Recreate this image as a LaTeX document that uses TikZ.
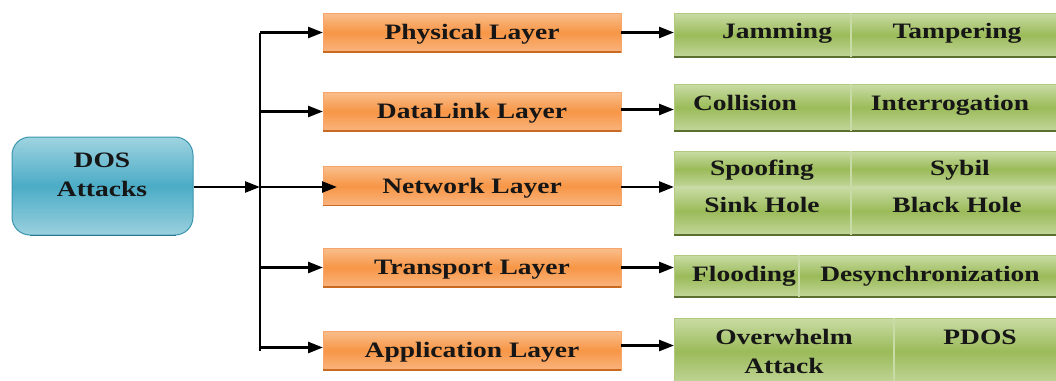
\documentclass[tikz,border=0pt]{standalone}
\usepackage{fontspec}
\newfontfamily\dfont{Liberation Serif}[FakeStretch=1.25]
\usetikzlibrary{arrows.meta}
\newcommand\dlabelfont{\dfont\bfseries\fontsize{22}{29}\selectfont}
\definecolor{orT}{HTML}{F9BE8C}
\definecolor{orM}{HTML}{F79646}
\definecolor{orBt}{HTML}{F9B47E}
\definecolor{orB}{HTML}{F6A66A}
\definecolor{orD}{HTML}{C96A22}
\definecolor{grT}{HTML}{C9DCA5}
\definecolor{grM}{HTML}{9BBB59}
\definecolor{grBt}{HTML}{C2D69A}
\definecolor{grB}{HTML}{B2CA80}
\definecolor{grD}{HTML}{5B6F2E}
\definecolor{grDiv}{HTML}{C8DBA6}
\definecolor{tlT}{HTML}{9FD3E0}
\definecolor{tlM}{HTML}{4BACC6}
\definecolor{tlBt}{HTML}{9BD0DE}
\definecolor{tlB}{HTML}{3A95AE}
\definecolor{txtc}{HTML}{161616}
\begin{document}
\begin{tikzpicture}[x=1pt,y=-1pt,
  conn/.style={draw=black, line width=2.6pt, -{Triangle[length=15pt,width=11pt]}},
  trunkline/.style={draw=black, line width=2.4pt},
  obox/.style={rectangle, draw=orB, line width=0.8pt, top color=orT, bottom color=orBt, middle color=orM,
    minimum width=298pt, minimum height=39pt, inner sep=0pt, outer sep=0pt,
    text height=14.5pt, text depth=0pt, font=\dlabelfont, text=txtc},
  gcell/.style n args={2}{rectangle, draw=grB, line width=0.8pt, top color=grT, bottom color=grBt, middle color=grM,
    minimum width=#1, minimum height=#2, inner sep=0pt, outer sep=0pt},
  gtxt/.style={font=\dlabelfont, text=txtc, inner sep=0pt, anchor=base},
  oshadow/.style={draw=orD, line width=1.8pt},
  gshadow/.style={draw=grD, line width=1.8pt},
  gdiv/.style={draw=grDiv, line width=1.2pt},
  dosbox/.style={rectangle, rounded corners=18pt, draw=tlB, line width=1pt, top color=tlT, bottom color=tlBt, middle color=tlM,
    minimum width=181pt, minimum height=98pt, inner sep=0pt}
]
\useasboundingbox (0,0) rectangle (1056,380);
\clip (0,0) rectangle (1056,380);

% DOS box
\node[dosbox] (dos) at (102.5,186) {};
\draw[draw=tlB!80!black, line width=1.2pt] ([xshift=-18pt]dos.south east) -- ([xshift=18pt]dos.south west);
\node[font=\dlabelfont, text=txtc, align=center, inner sep=0pt] (dostxt) at (102,175) {DOS\\Attacks};

% Orange layer boxes
\node[obox] (phys) at (472,32.5) {Physical Layer};
\node[obox] (dl)   at (472,111.5) {DataLink Layer};
\node[obox] (net)  at (472,186) {Network Layer};
\node[obox] (tr)   at (472,267.5) {Transport Layer};
\node[obox] (app)  at (472,350.5) {Application Layer};
\foreach \n in {phys,dl,net,tr,app}{
  \draw[oshadow] (\n.south west) -- (\n.south east);
}

% Green attack cells
\node[gcell={177pt}{44pt}] (jam)  at (762.5,35) {};
\node[gcell={209pt}{44pt}] (tam)  at (955.5,35) {};
\node[gcell={177pt}{47pt}] (col)  at (762.5,107.5) {};
\node[gcell={209pt}{47pt}] (intr) at (955.5,107.5) {};
\node[gcell={177pt}{36pt}] (spo)  at (762.5,169) {};
\node[gcell={209pt}{36pt}] (syb)  at (955.5,169) {};
\node[gcell={177pt}{48pt}] (sink) at (762.5,211) {};
\node[gcell={209pt}{48pt}] (blk)  at (955.5,211) {};
\node[gcell={125pt}{42pt}] (flo)  at (736.5,276) {};
\node[gcell={261pt}{42pt}] (des)  at (929.5,276) {};
\node[gcell={220pt}{67pt}] (ovr)  at (784,351.5) {};
\node[gcell={166pt}{67pt}] (pdos) at (977,351.5) {};

\foreach \a/\b in {jam/tam,col/intr,sink/blk,flo/des}{
  \draw[gshadow] (\a.south west) -- (\b.south east);
}
\foreach \a in {jam,col,spo,sink,flo,ovr}{
  \draw[gdiv] (\a.north east) -- (\a.south east);
}
\draw[gdiv] (spo.south west) -- (syb.south east);

\node[gtxt] (t1)  at (777,38)  {Jamming};
\node[gtxt] (t2)  at (957,38)  {Tampering};
\node[gtxt] (t3)  at (745,110) {Collision};
\node[gtxt] (t4)  at (950,110) {Interrogation};
\node[gtxt] (t5)  at (762,175) {Spoofing};
\node[gtxt] (t6)  at (960,175) {Sybil};
\node[gtxt] (t7)  at (762,212) {Sink Hole};
\node[gtxt] (t8)  at (957,212) {Black Hole};
\node[gtxt] (t9)  at (744,281) {Flooding};
\node[gtxt] (t10) at (930,281) {Desynchronization};
\node[gtxt] (t11) at (784,344) {Overwhelm};
\node[gtxt] (t12) at (784,373) {Attack};
\node[gtxt] (t13) at (980,344) {PDOS};

% Connectors
\coordinate (tc) at (260,187);
\draw[trunkline] (tc |- phys.center) -- (tc |- app.center);
\draw[conn] (dos.east |- tc) -- (tc);
\draw[conn] (tc |- phys.center) -- (phys.west);
\draw[conn] (tc |- dl.center) -- (dl.west);
\draw[conn] (tc) -- ([xshift=14pt]net.west |- tc);
\draw[conn] (tc |- tr.center) -- (tr.west);
\draw[conn] ([yshift=3pt]tc |- app.center) -- ([yshift=3pt]app.west);

\draw[conn] (phys.east) -- (phys.east -| jam.west);
\draw[conn] ([yshift=2pt]dl.east) -- ([yshift=2pt]dl.east -| col.west);
\draw[conn] (net.east |- tc) -- (tc -| spo.west);
\draw[conn] (tr.east) -- (tr.east -| flo.west);
\draw[conn] ([yshift=5pt]app.east) -- ([yshift=5pt]app.east -| ovr.west);
\end{tikzpicture}
\end{document}
